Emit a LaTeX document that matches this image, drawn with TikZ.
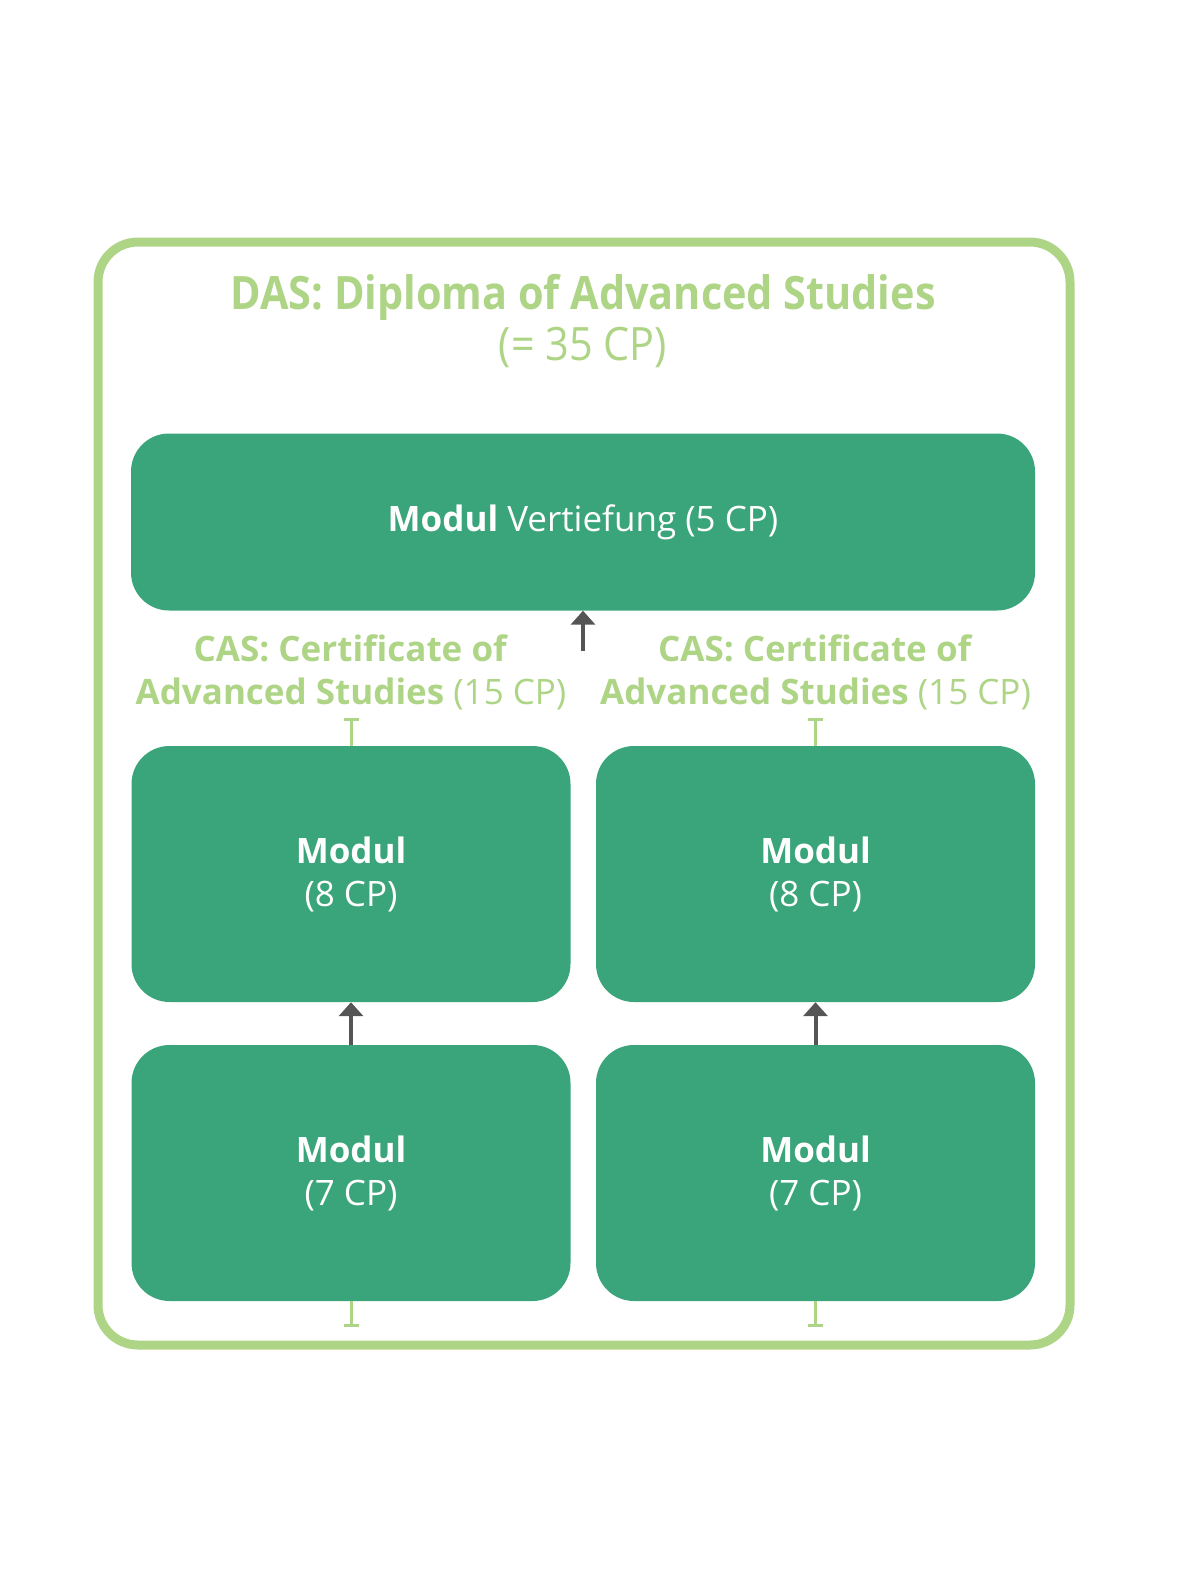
\documentclass[tikz,border=0pt]{standalone}
\usepackage{fontspec}
\setmainfont{Open Sans}
\newfontfamily\dasfont[FakeStretch=0.9]{Open Sans}
\usetikzlibrary{arrows.meta,positioning}
\definecolor{dasgreen}{RGB}{174,212,134}
\definecolor{modgreen}{RGB}{58,164,122}
\definecolor{arrgray}{RGB}{85,85,85}

\begin{document}
\begin{tikzpicture}[x=1pt,y=-1pt,>=Latex,
  modbox/.style={fill=modgreen,rounded corners=38pt,text=white,align=center,
    minimum width=439pt,minimum height=256pt,font=\fontsize{35}{43}\selectfont},
  caslabel/.style={text=dasgreen,align=center,font=\fontsize{35}{43}\selectfont},
  uparrow/.style={arrgray,line width=4pt,-{Triangle[width=24pt,length=14pt]}},
  tbar/.style={dasgreen,line width=3pt,-{Bar[width=15pt,line width=3pt]}}]
\useasboundingbox (0,0) rectangle (1180,1574);
\draw[dasgreen,line width=9pt,rounded corners=40pt] (98,242) rectangle (1070,1345);
\node[text=dasgreen,align=center,font=\dasfont\fontsize{46}{51}\selectfont] (das) at (583,321)
  {\textbf{DAS: Diploma of Advanced Studies}\\(= 35 CP)};

\node[modbox,minimum width=904pt,minimum height=177pt] (vert) at (583,522) {\textbf{Modul} Vertiefung (5 CP)};
\node[modbox] (m8l) at (351,874) {\textbf{Modul}\\(8 CP)};
\node[modbox] (m8r) at (815.5,874) {\textbf{Modul}\\(8 CP)};
\node[modbox] (m7l) at (351,1173) {\textbf{Modul}\\(7 CP)};
\node[modbox] (m7r) at (815.5,1173) {\textbf{Modul}\\(7 CP)};

\node[caslabel] (casl) at (351,672) {\textbf{CAS: Certificate of}\\\textbf{Advanced Studies} (15 CP)};
\node[caslabel] (casr) at (815.5,672) {\textbf{CAS: Certificate of}\\\textbf{Advanced Studies} (15 CP)};

% arrows
\coordinate (vin) at (583,651);
\draw[uparrow] (vin) -- (vert.south);
\draw[uparrow] (m7l.north) -- (m8l.south);
\draw[uparrow] (m7r.north) -- (m8r.south);

% bars
\coordinate (tl) at (351,718);
\coordinate (tr) at (815.5,718);
\coordinate (bl) at (351,1327);
\coordinate (br) at (815.5,1327);
\draw[tbar] (m8l.north) -- (tl);
\draw[tbar] (m8r.north) -- (tr);
\draw[tbar] (m7l.south) -- (bl);
\draw[tbar] (m7r.south) -- (br);
\end{tikzpicture}
\end{document}
